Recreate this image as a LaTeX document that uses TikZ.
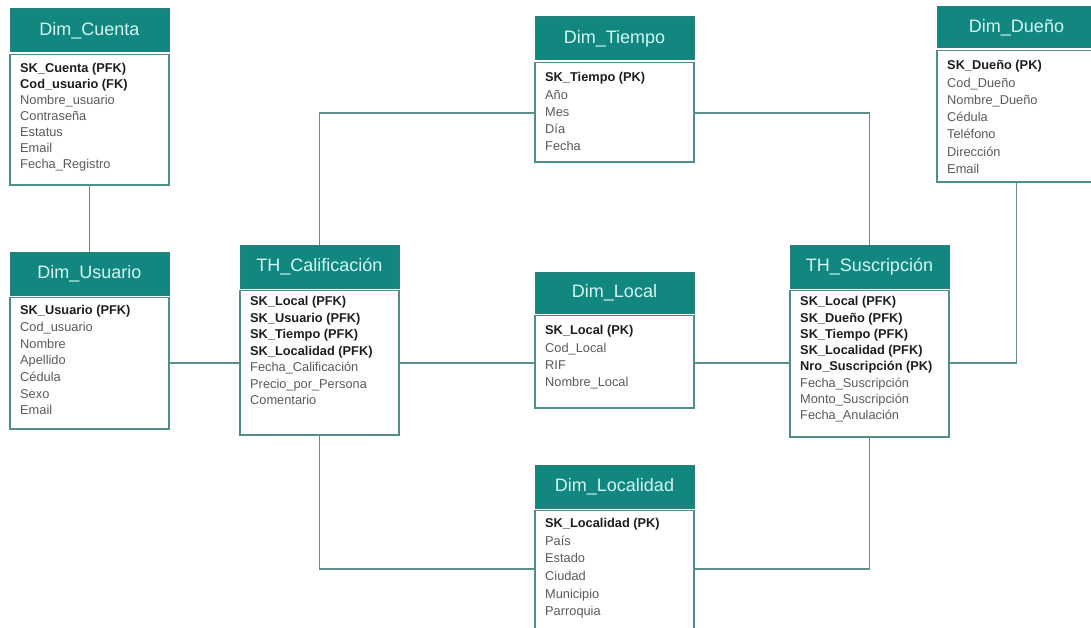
\documentclass[tikz,border=0pt]{standalone}
\usepackage{fontspec}
\setmainfont{Liberation Sans}

\definecolor{hdrfill}{HTML}{12877F}
\definecolor{hdredge}{HTML}{2E7F7A}
\definecolor{hdrtext}{HTML}{D4F6F2}
\definecolor{frame}{HTML}{4E8F8B}
\definecolor{link}{HTML}{5E8E8B}
\definecolor{keytext}{HTML}{1E1E1E}
\definecolor{plaintext}{HTML}{5A5A5A}

\tikzset{
  hdr/.style={draw=hdredge, fill=hdrfill, line width=1pt, text=hdrtext,
    font=\fontsize{18}{20}\selectfont, inner sep=0pt, minimum width=159pt},
  bodybox/.style={draw=frame, fill=white, line width=1.3pt, inner sep=0pt,
    minimum width=159pt},
  fields/.style={anchor=north west, align=left, inner sep=0pt, text=plaintext},
  conn/.style={draw=link, line width=1.4pt},
}

% key attribute (bold, dark)
\newcommand\keyf[1]{{\bfseries\color{keytext}#1}}

% \ertable{name}{left x}{top y}{header bottom y}{bottom y}{title}{first row y}{row pitch}{rows}
\newcommand\ertable[9]{%
  \node[hdr, minimum height={(#4-#3)*1pt}] (#1-h)
    at ({#2+79.5},{(#3+#4)/2}) {#6};
  \node[bodybox, minimum height={(#5-#4-2.5)*1pt}] (#1)
    at ({#2+79.5},{(#4+2.5+#5)/2}) {};
  \node[fields, font={\fontsize{12.8}{#8}\selectfont}] (#1-f)
    at ({#2+10},{#7-4.7}) {#9};
}

\begin{document}
\begin{tikzpicture}[x=1pt, y=-1pt]
  \clip (0,0) rectangle (1091,628);
  \fill[white] (0,0) rectangle (1091,628);

  \ertable{cuenta}{10}{9}{52}{185}{Dim\_Cuenta}{68}{15.9}{%
    \keyf{SK\_Cuenta (PFK)}\\ \keyf{Cod\_usuario (FK)}\\ Nombre\_usuario\\
    Contraseña\\ Estatus\\ Email\\ Fecha\_Registro}

  \ertable{usuario}{10}{252}{295}{429}{Dim\_Usuario}{310}{16.7}{%
    \keyf{SK\_Usuario (PFK)}\\ Cod\_usuario\\ Nombre\\ Apellido\\
    Cédula\\ Sexo\\ Email}

  \ertable{calif}{240}{245}{288}{435}{TH\_Calificación}{301}{16.5}{%
    \keyf{SK\_Local (PFK)}\\ \keyf{SK\_Usuario (PFK)}\\ \keyf{SK\_Tiempo (PFK)}\\
    \keyf{SK\_Localidad (PFK)}\\ Fecha\_Calificación\\ Precio\_por\_Persona\\ Comentario}

  \ertable{tiempo}{535}{17}{60}{162}{Dim\_Tiempo}{77}{17.3}{%
    \keyf{SK\_Tiempo (PK)}\\ Año\\ Mes\\ Día\\ Fecha}

  \ertable{local}{535}{272}{313}{408}{Dim\_Local}{330}{17.3}{%
    \keyf{SK\_Local (PK)}\\ Cod\_Local\\ RIF\\ Nombre\_Local}

  \ertable{localidad}{535}{465}{508}{640}{Dim\_Localidad}{523}{17.6}{%
    \keyf{SK\_Localidad (PK)}\\ País\\ Estado\\ Ciudad\\ Municipio\\ Parroquia}

  \ertable{suscr}{790}{245}{288}{437}{TH\_Suscripción}{301}{16.3}{%
    \keyf{SK\_Local (PFK)}\\ \keyf{SK\_Dueño (PFK)}\\ \keyf{SK\_Tiempo (PFK)}\\
    \keyf{SK\_Localidad (PFK)}\\ \keyf{Nro\_Suscripción (PK)}\\
    Fecha\_Suscripción\\ Monto\_Suscripción\\ Fecha\_Anulación}

  \ertable{dueno}{937}{7}{48}{182}{Dim\_Dueño}{65}{17.3}{%
    \keyf{SK\_Dueño (PK)}\\ Cod\_Dueño\\ Nombre\_Dueño\\ Cédula\\
    Teléfono\\ Dirección\\ Email}

  % routing rows shared by the connectors
  \coordinate (toprow) at (0,113);
  \coordinate (midrow) at (0,363);
  \coordinate (botrow) at (0,569);

  % relationships
  \draw[conn] (cuenta.south) -- (usuario-h.north);
  \draw[conn] (usuario.east |- midrow) -- (calif.west |- midrow);
  \draw[conn] (calif.east |- midrow) -- (local.west |- midrow);
  \draw[conn] (local.east |- midrow) -- (suscr.west |- midrow);
  \draw[conn] (calif-h.north) |- (tiempo.west |- toprow);
  \draw[conn] (tiempo.east |- toprow) -| (suscr-h.north);
  \draw[conn] (suscr.east |- midrow) -| (dueno.south);
  \draw[conn] (calif.south) |- (localidad.west |- botrow);
  \draw[conn] (localidad.east |- botrow) -| (suscr.south);
\end{tikzpicture}
\end{document}
